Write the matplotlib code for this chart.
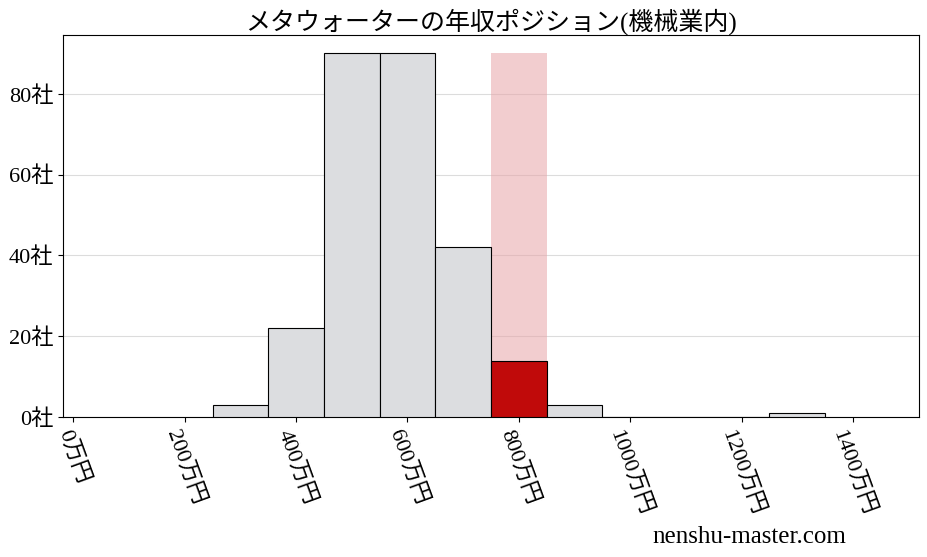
import numpy as np
import matplotlib
matplotlib.use('Agg')
import matplotlib.pyplot as plt

plt.rcParams['font.family'] = ['Liberation Serif', 'Noto Sans CJK JP', 'DejaVu Sans']

# bin left edges (万円) and company counts
bin_left = [250, 350, 450, 550, 650, 750, 850, 950, 1050, 1150, 1250]
counts = [3, 22, 90, 90, 42, 14, 3, 0, 0, 0, 1]
bin_width = 100
highlight_left = 750
highlight_height = 90

x_ticks = [0, 200, 400, 600, 800, 1000, 1200, 1400]
y_ticks = [0, 20, 40, 60, 80]
title = 'メタウォーターの年収ポジション(機械業内)'

fig = plt.figure(figsize=(9.27, 5.57), dpi=100)
ax = fig.add_axes([0.068, 0.251, 0.923, 0.686])

ax.grid(axis='y', color='#dcdcdc', linewidth=0.8)
ax.set_axisbelow(True)

ax.bar(highlight_left, highlight_height, width=bin_width, align='edge',
       color='#e8a5a8', alpha=0.55, linewidth=0, zorder=2)

colors = ['#c00a0a' if l == highlight_left else '#dcdde0' for l in bin_left]
ax.bar(bin_left, counts, width=bin_width, align='edge', color=colors,
       edgecolor='black', linewidth=0.8, zorder=3)

ax.set_xlim(-18.5, 1518)
ax.set_ylim(0, 94.5)
ax.set_xticks(x_ticks)
ax.set_xticklabels(['{}万円'.format(v) for v in x_ticks], rotation=-70,
                   ha='center', va='top', fontsize=16)
ax.set_yticks(y_ticks)
ax.set_yticklabels(['{}社'.format(v) for v in y_ticks], fontsize=16)
ax.set_title(title, fontsize=18, pad=4)

fig.text(0.808, 0.036, 'nenshu-master.com', ha='center', va='center', fontsize=18)

fig.savefig('out.png', dpi=100)
